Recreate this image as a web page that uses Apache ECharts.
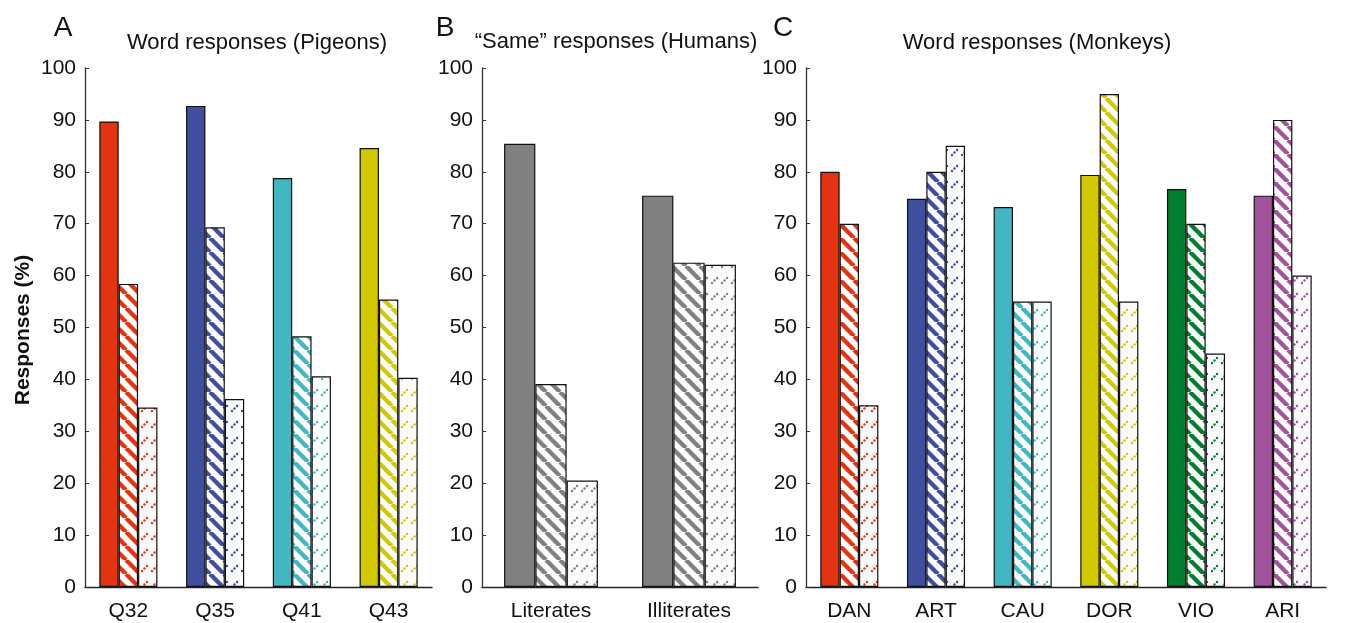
<!DOCTYPE html>
<html>
<head>
<meta charset="utf-8">
<style>html,body{margin:0;padding:0;background:#fff}#chart{width:1352px;height:623px}</style>
<script src="https://cdn.jsdelivr.net/npm/echarts@6/dist/echarts.min.js"></script>
</head>
<body>
<div id="chart"></div>
<script>
// ---- data ----
const pigeonCats = ['Q32', 'Q35', 'Q41', 'Q43'];
const pigeonSolid = [89.7, 92.7, 78.8, 84.6];
const pigeonHatched = [58.4, 69.3, 48.3, 55.4];
const pigeonDotted = [34.6, 36.2, 40.6, 40.3];
const pigeonColors = ['#E3330F', '#3F4E9E', '#40B7C2', '#D3C900'];

const humanCats = ['Literates', 'Illiterates'];
const humanSolid = [85.4, 75.4];
const humanHatched = [39.1, 62.5];
const humanDotted = [20.5, 62.1];
const humanColors = ['#808080', '#808080'];

const monkeyCats = ['DAN', 'ART', 'CAU', 'DOR', 'VIO', 'ARI'];
const monkeySolid = [80.0, 74.8, 73.2, 79.4, 76.7, 75.4];
const monkeyHatched = [70, 80, 55, 95, 70, 90];
const monkeyDotted = [35, 85, 55, 55, 45, 60];
const monkeyColors = ['#E3330F', '#3F4E9E', '#40B7C2', '#D3C900', '#00802F', '#A0529A'];

const panelTitles = ['Word responses (Pigeons)', '\u201CSame\u201D responses (Humans)', 'Word responses (Monkeys)'];
const panelLetters = ['A', 'B', 'C'];
const yAxisTitle = 'Responses (%)';

// ---- patterns ----
function hatch(color) {
  const s = 14, c = document.createElement('canvas');
  c.width = s; c.height = s;
  const g = c.getContext('2d');
  g.fillStyle = '#fff'; g.fillRect(0, 0, s, s);
  g.strokeStyle = color; g.lineWidth = 4.4;
  [-s, 0, s].forEach(x0 => { g.beginPath(); g.moveTo(x0, 0); g.lineTo(x0 + s, s); g.stroke(); });
  return { image: c, repeat: 'repeat' };
}
function dots(color) {
  const w = 10, h = 16, c = document.createElement('canvas');
  c.width = w; c.height = h;
  const g = c.getContext('2d');
  g.fillStyle = '#fbfbfb'; g.fillRect(0, 0, w, h);
  g.fillStyle = color;
  [[2, 11], [4.5, 8.5], [7, 6]].forEach(p => { g.beginPath(); g.arc(p[0], p[1], 1.2, 0, Math.PI * 2); g.fill(); });
  return { image: c, repeat: 'repeat' };
}

const FONT = 'Liberation Sans, Arial, sans-serif';
const grids = [
  { left: 85, top: 68, width: 347, height: 519 },
  { left: 482, top: 68, width: 276, height: 519 },
  { left: 806, top: 68, width: 520, height: 519 }
];
const panels = [
  { cats: pigeonCats, s: pigeonSolid, h: pigeonHatched, d: pigeonDotted, col: pigeonColors },
  { cats: humanCats, s: humanSolid, h: humanHatched, d: humanDotted, col: humanColors },
  { cats: monkeyCats, s: monkeySolid, h: monkeyHatched, d: monkeyDotted, col: monkeyColors }
];

const xAxes = [], yAxes = [], series = [];
panels.forEach((p, i) => {
  xAxes.push({
    type: 'category', gridIndex: i, data: p.cats,
    axisLine: { lineStyle: { color: '#222', width: 1.3 } },
    axisTick: { inside: true, length: 5, lineStyle: { color: '#222' } },
    axisLabel: { fontSize: 21, color: '#111', margin: 14, fontFamily: FONT }
  });
  yAxes.push({
    type: 'value', gridIndex: i, min: 0, max: 100, interval: 10,
    axisLine: { show: true, lineStyle: { color: '#333', width: 1.3 } },
    axisTick: { show: true, inside: true, length: 4, lineStyle: { color: '#333' } },
    splitLine: { show: false },
    axisLabel: { fontSize: 21, color: '#111', margin: 9, fontFamily: FONT }
  });
  const kinds = [
    { vals: p.s, fill: c => c },
    { vals: p.h, fill: c => hatch(c) },
    { vals: p.d, fill: c => dots(c) }
  ];
  kinds.forEach(k => {
    series.push({
      type: 'bar', xAxisIndex: i, yAxisIndex: i,
      barGap: '0%', barCategoryGap: i === 1 ? '32%' : '33%',
      data: k.vals.map((v, j) => ({
        value: v,
        itemStyle: { color: k.fill(p.col[j]), borderColor: '#111', borderWidth: 1.2 }
      })),
      emphasis: { disabled: true }
    });
  });
});

const texts = [];
const titlePos = [[257, 43], [616, 42], [1037, 43]];
const letterPos = [[63, 28], [445, 28], [783, 28]];
panelTitles.forEach((t, i) => {
  texts.push({ type: 'text', x: titlePos[i][0], y: titlePos[i][1],
    style: { text: t, fontSize: 22, fontFamily: FONT, fill: '#111', textAlign: 'center', textVerticalAlign: 'middle' } });
  texts.push({ type: 'text', x: letterPos[i][0], y: letterPos[i][1],
    style: { text: panelLetters[i], fontSize: 28, fontFamily: FONT, fill: '#111', textAlign: 'center', textVerticalAlign: 'middle' } });
});
texts.push({ type: 'text', x: 23, y: 330, rotation: Math.PI / 2,
  style: { text: yAxisTitle, fontSize: 21, fontWeight: 'bold', fontFamily: FONT, fill: '#111', textAlign: 'center', textVerticalAlign: 'middle' } });

const chart = echarts.init(document.getElementById('chart'), null, { renderer: 'canvas' });
chart.setOption({
  animation: false,
  backgroundColor: '#fff',
  grid: grids,
  xAxis: xAxes,
  yAxis: yAxes,
  series: series,
  graphic: texts
});
</script>
</body>
</html>
